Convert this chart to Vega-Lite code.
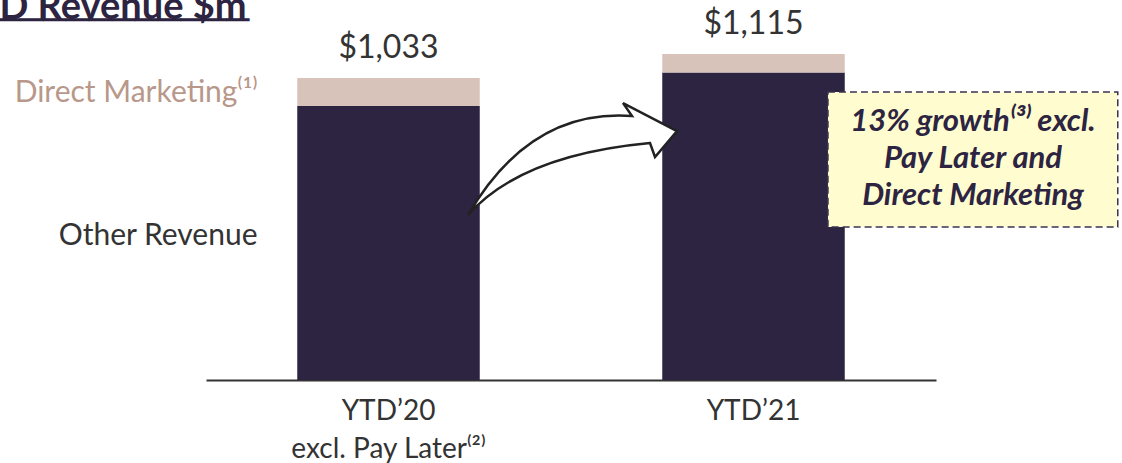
{
  "$schema": "https://vega.github.io/schema/vega-lite/v6.json",
  "width": 730,
  "height": 380,
  "autosize": "none",
  "padding": {"left": 206, "top": 0, "right": 186, "bottom": 83},
  "background": "white",
  "config": {"view": {"stroke": null}, "font": "Lato", "text": {"font": "Lato"}},
  "title": {
    "text": "YTD Revenue $m",
    "anchor": "start",
    "frame": "group",
    "font": "Lato",
    "fontSize": 38,
    "fontWeight": "bold",
    "color": "#2D2441",
    "dx": -254,
    "dy": 45,
    "subtitle": "─────────────",
    "subtitleFont": "DejaVu Sans Mono",
    "subtitleFontSize": 38,
    "subtitleFontWeight": "normal",
    "subtitleColor": "#2D2441",
    "subtitlePadding": -24
  },
  "datasets": {
    "bars": [
      {"period": "YTD’20", "segment": "Other Revenue", "value": 937},
      {"period": "YTD’20", "segment": "Direct Marketing", "value": 96},
      {"period": "YTD’21", "segment": "Other Revenue", "value": 1052},
      {"period": "YTD’21", "segment": "Direct Marketing", "value": 63}
    ],
    "totals": [
      {"period": "YTD’20", "total": 1033},
      {"period": "YTD’21", "total": 1115}
    ],
    "arrow": [{"ax": 0.5014, "ay": 756}],
    "callout": [{"bx": 0.852, "bx2": 1.249, "by": 523, "by2": 985, "tx": 1.0507, "ty": 883, "note": "13% growth⁽³⁾ excl.\nPay Later and\nDirect Marketing"}]
  },
  "layer": [
    {
      "layer": [
        {
          "data": {"name": "bars"},
          "mark": {"type": "bar"},
          "encoding": {
            "x": {
              "field": "period",
              "type": "nominal",
              "sort": null,
              "scale": {"paddingInner": 0.5, "paddingOuter": 0.25},
              "axis": {
                "title": null,
                "labelAngle": 0,
                "labelFont": "Lato",
                "labelFontSize": 28,
                "labelColor": "#333333",
                "labelLimit": 0,
                "labelPadding": 17,
                "labelLineHeight": 38,
                "labelBaseline": "top",
                "labelExpr": "datum.value == 'YTD’20' ? ['YTD’20', 'excl. Pay Later⁽²⁾'] : datum.value",
                "ticks": false,
                "domainColor": "#333333",
                "domainWidth": 2,
                "grid": false
              }
            },
            "y": {
              "field": "value",
              "type": "quantitative",
              "stack": "zero",
              "scale": {"domain": [0, 1300], "nice": false, "zero": true},
              "axis": {
                "title": null,
                "values": [493, 985],
                "domain": false,
                "ticks": false,
                "grid": false,
                "labelFont": "Lato",
                "labelFontSize": 30,
                "labelLimit": 0,
                "labelPadding": -51,
                "labelBaseline": "middle",
                "labelExpr": "datum.value > 700 ? 'Direct Marketing⁽¹⁾' : 'Other Revenue'",
                "labelColor": {"condition": {"test": "datum.value > 700", "value": "#B8988A"}, "value": "#333333"}
              }
            },
            "color": {
              "field": "segment",
              "type": "nominal",
              "scale": {"domain": ["Other Revenue", "Direct Marketing"], "range": ["#2D2442", "#D7C3B9"]},
              "legend": null
            },
            "order": {"field": "segment", "sort": "descending"}
          }
        },
        {
          "data": {"name": "totals"},
          "mark": {"type": "text", "baseline": "bottom", "dy": -13, "fontSize": 32, "color": "#333333", "font": "Lato"},
          "encoding": {
            "x": {"field": "period", "type": "nominal", "sort": null},
            "y": {"field": "total", "type": "quantitative", "title": null},
            "text": {"field": "total", "type": "quantitative", "format": "$,.0f"}
          }
        }
      ]
    },
    {
      "layer": [
        {
          "data": {"name": "arrow"},
          "mark": {
            "type": "point",
            "filled": true,
            "fill": "white",
            "stroke": "#222222",
            "strokeWidth": 2.5,
            "opacity": 1,
            "size": 40000,
            "shape": "M -1.04 0.56 Q -0.42 -0.505 0.60 -0.43 L 0.51 -0.56 L 1.05 -0.28 L 0.83 -0.02 L 0.78 -0.16 Q -0.51 -0.04 -1.04 0.56 Z"
          },
          "encoding": {
            "x": {"field": "ax", "type": "quantitative", "scale": {"domain": [0, 1], "nice": false, "zero": false}, "axis": null},
            "y": {"field": "ay", "type": "quantitative", "title": null}
          }
        },
        {
          "data": {"name": "callout"},
          "mark": {"type": "rect", "fill": "#FFFDD0", "stroke": "#3A3350", "strokeWidth": 1.5, "strokeDash": [7, 4]},
          "encoding": {
            "x": {"field": "bx", "type": "quantitative", "scale": {"domain": [0, 1], "nice": false, "zero": false}, "axis": null},
            "x2": {"field": "bx2"},
            "y": {"field": "by", "type": "quantitative", "title": null},
            "y2": {"field": "by2"}
          }
        },
        {
          "data": {"name": "callout"},
          "mark": {"type": "text", "font": "Lato", "fontSize": 31, "fontWeight": "bold", "fontStyle": "italic", "color": "#2D2442", "align": "center", "baseline": "middle", "lineBreak": "\n", "lineHeight": 37},
          "encoding": {
            "x": {"field": "tx", "type": "quantitative", "scale": {"domain": [0, 1], "nice": false, "zero": false}, "axis": null},
            "y": {"field": "ty", "type": "quantitative", "title": null},
            "text": {"field": "note", "type": "nominal"}
          }
        }
      ]
    }
  ],
  "resolve": {"scale": {"x": "independent"}}
}
